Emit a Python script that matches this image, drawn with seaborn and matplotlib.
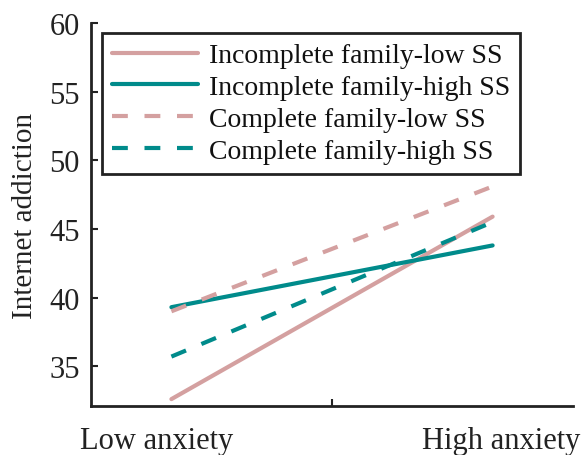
import pandas as pd
import matplotlib
matplotlib.use("Agg")
from matplotlib import pyplot as plt
import seaborn as sns

# %% Data
groups = ["Incomplete family-low SS", "Incomplete family-high SS",
          "Complete family-low SS", "Complete family-high SS"]
levels = ["Low anxiety", "High anxiety"]
low_vals = [32.6, 39.3, 39.0, 35.7]
high_vals = [45.9, 43.8, 48.1, 45.5]

pink = "#d4a0a0"
teal = "#008b8b"

rows = []
for g, lo, hi in zip(groups, low_vals, high_vals):
    rows.append({"group": g, "x": 1, "value": lo})
    rows.append({"group": g, "x": 2, "value": hi})
df = pd.DataFrame(rows)

# %% Plot
sns.set_style("ticks")
plt.rcParams["font.family"] = ["Liberation Serif", "DejaVu Serif"]

fig = plt.figure(figsize=(5.84, 4.56), dpi=100)
ax = fig.add_axes([0.156, 0.1075, 0.825, 0.8395])

palette = {groups[0]: pink, groups[1]: teal, groups[2]: pink, groups[3]: teal}
dashes = {groups[0]: "", groups[1]: "", groups[2]: (3.8, 4), groups[3]: (3.8, 4)}
sns.lineplot(data=df, x="x", y="value", hue="group", style="group",
             hue_order=groups, style_order=groups, palette=palette,
             dashes=dashes, linewidth=3, ax=ax)

ax.set_xlim(0.75, 2.25)
ax.set_ylim(32.1, 60)
ax.set_yticks([35, 40, 45, 50, 55, 60])
ax.set_xticks([1.5])
ax.set_xticklabels([""])
ax.tick_params(direction="in", length=5, width=1.5, labelsize=22,
               colors="#222222", pad=8)
for lab_x, lab in zip([0.955, 2.026], levels):
    ax.text(lab_x, -0.09, lab, transform=ax.get_xaxis_transform(),
            ha="center", va="center", fontsize=22, color="#222222")

for s in ["top", "right"]:
    ax.spines[s].set_visible(False)
for s in ["left", "bottom"]:
    ax.spines[s].set_linewidth(2)
    ax.spines[s].set_color("#222222")

ax.set_xlabel("")
ax.set_ylabel("Internet addiction", fontsize=21, color="#222222", labelpad=8)

leg = ax.legend(loc="upper left", bbox_to_anchor=(0.023, 0.974),
                borderaxespad=0, fontsize=20, frameon=True, fancybox=False,
                framealpha=1, handlelength=3.1, labelspacing=0.23,
                borderpad=0.35, handletextpad=0.4)
leg.get_frame().set_edgecolor("#222222")
leg.get_frame().set_linewidth(2)
for text in leg.get_texts():
    text.set_color("#111111")
for line in leg.get_lines():
    line.set_linewidth(3)

plt.savefig("out.png", dpi=100)
